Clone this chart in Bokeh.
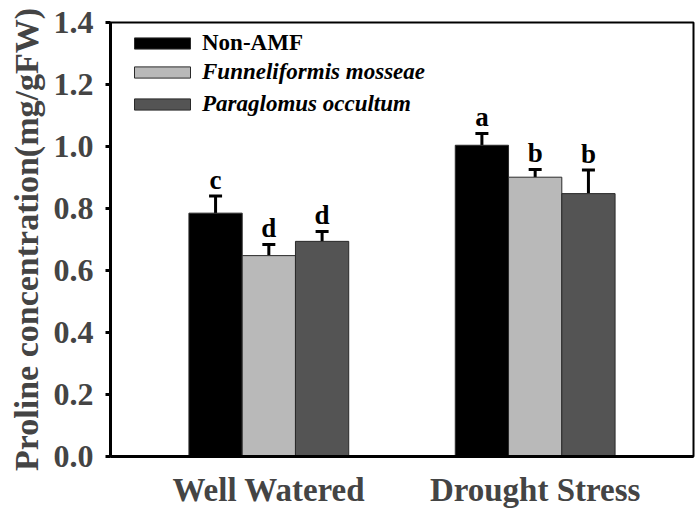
from bokeh.plotting import figure
from bokeh.models import (ColumnDataSource, FactorRange, Whisker, TeeHead, Legend,
                          LegendItem, FixedTicker, NumeralTickFormatter, Range1d)
from bokeh.transform import dodge
from bokeh.core.properties import value
from bokeh.embed import file_html
from bokeh.resources import INLINE

# ---- data ----
groups = ["Well Watered", "Drought Stress"]
series = ["Non-AMF", "Funneliformis mosseae", "Paraglomus occultum"]
non_amf = [0.785, 1.004]
non_amf_err = [0.055, 0.038]
f_mosseae = [0.648, 0.901]
f_mosseae_err = [0.036, 0.025]
p_occultum = [0.694, 0.848]
p_occultum_err = [0.032, 0.076]
letters_non_amf = ["c", "a"]
letters_f_mosseae = ["d", "b"]
letters_p_occultum = ["d", "b"]
y_ticks = [0.0, 0.2, 0.4, 0.6, 0.8, 1.0, 1.2, 1.4]

colors = ["#000000", "#b9b9b9", "#545454"]
offsets = [-0.2, 0.0, 0.2]
FONT = "Liberation Serif"

p = figure(width=696, height=510, output_backend="svg", toolbar_location=None,
           x_range=FactorRange(factors=groups, range_padding=0.0945),
           y_range=Range1d(0, 1.4),
           min_border_left=110, min_border_right=3, min_border_top=22, min_border_bottom=53)
p.xgrid.visible = False
p.ygrid.visible = False
p.outline_line_color = "black"
p.outline_line_width = 2
p.background_fill_color = "white"

renderers = []
for name, vals, errs, lets, col, off in zip(
        series,
        [non_amf, f_mosseae, p_occultum],
        [non_amf_err, f_mosseae_err, p_occultum_err],
        [letters_non_amf, letters_f_mosseae, letters_p_occultum],
        colors, offsets):
    src = ColumnDataSource(dict(group=groups, top=vals, err=errs,
                                upper=[v + e for v, e in zip(vals, errs)], letter=lets))
    r = p.vbar(x=dodge("group", off, range=p.x_range), top="top", width=0.2, bottom=0,
               source=src, fill_color=col, line_color="#2a2a2a", line_width=1)
    renderers.append(r)
    w = Whisker(source=src, base=dodge("group", off, range=p.x_range), lower="top", upper="upper",
                upper_head=TeeHead(size=13, line_width=3, line_color="black"), lower_head=None,
                line_width=3, line_color="black")
    p.add_layout(w)
    p.text(x=dodge("group", off, range=p.x_range), y="upper", text="letter", source=src,
           text_align="center", text_baseline="bottom", y_offset=-1,
           text_font=value(FONT), text_font_style="bold", text_font_size="27px", text_color="black")

# legends (two, to allow upright + italic labels)
common = dict(glyph_width=70, glyph_height=14, label_height=24, spacing=6, padding=0, margin=0,
              label_standoff=5, border_line_alpha=0, background_fill_alpha=0,
              label_text_font=FONT, label_text_font_size="23px", label_text_color="black")
leg1 = Legend(items=[LegendItem(label=series[0], renderers=[renderers[0]])],
              location=(17, 400), label_text_font_style="bold", **common)
leg2 = Legend(items=[LegendItem(label=series[1], renderers=[renderers[1]]),
                     LegendItem(label=series[2], renderers=[renderers[2]])],
              location=(17, 339), label_text_font_style="bold italic", **common)
p.add_layout(leg1)
p.add_layout(leg2)

# y axis
p.yaxis.ticker = FixedTicker(ticks=y_ticks)
p.yaxis.formatter = NumeralTickFormatter(format="0.0")
p.yaxis.minor_tick_line_color = None
p.yaxis.major_tick_out = 5
p.yaxis.major_tick_in = 0
p.yaxis.major_tick_line_width = 3
p.yaxis.axis_line_width = 3
p.yaxis.major_label_text_font = FONT
p.yaxis.major_label_text_font_style = "bold"
p.yaxis.major_label_text_font_size = "32px"
p.yaxis.major_label_standoff = 12
p.yaxis.axis_label = "Proline concentration(mg/gFW)"
p.yaxis.axis_label_text_font = FONT
p.yaxis.axis_label_text_font_style = "bold"
p.yaxis.axis_label_text_font_size = "34px"
p.yaxis.axis_label_standoff = 6

# x axis
p.xaxis.major_tick_line_color = None
p.xaxis.minor_tick_line_color = None
p.xaxis.axis_line_width = 3
p.xaxis.major_label_text_font = FONT
p.xaxis.major_label_text_font_style = "bold"
p.xaxis.major_label_text_font_size = "33px"
p.xaxis.major_label_standoff = 9

open("out.html", "w").write(file_html(p, INLINE))
